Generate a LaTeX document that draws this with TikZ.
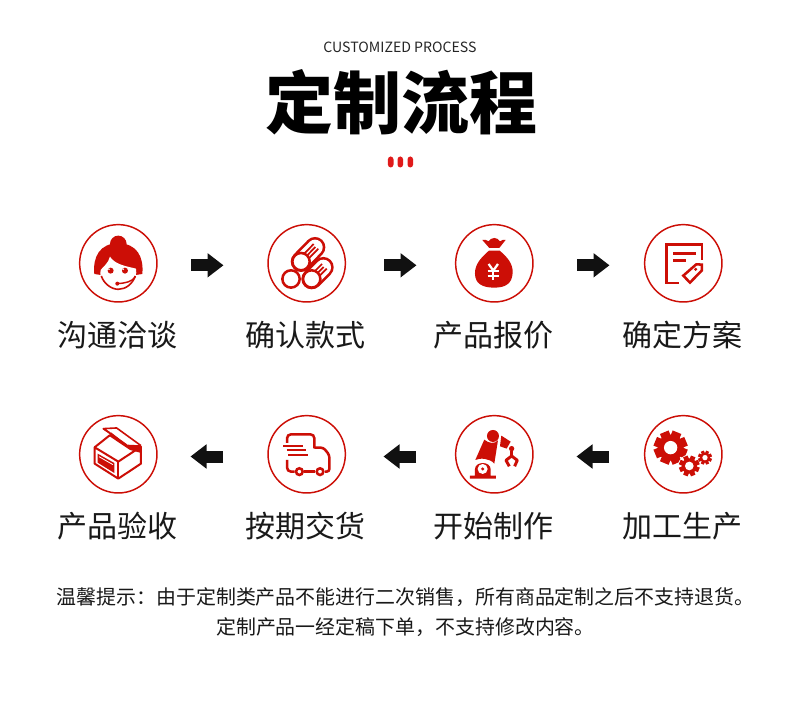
\documentclass[tikz,border=0pt]{standalone}
\usepackage{fontspec}
\usetikzlibrary{arrows.meta}
\setmainfont{Noto Sans CJK SC}
\definecolor{icred}{HTML}{CC0E06}
\definecolor{dotred}{HTML}{E01A1A}
\definecolor{arrblack}{HTML}{111111}
\tikzset{
  ring/.style={circle,draw=icred,line width=1.1pt,minimum size=58pt,inner sep=0pt},
  steplabel/.style={inner sep=0pt,font=\fontsize{22.5pt}{27pt}\selectfont,text=black!90},
  blockarrow/.style={draw=arrblack,line width=9pt,-{Triangle[length=12pt,width=17.5pt]}},
  icon/.style n args={3}{shift={(#1.center)},x=.25pt,y=-.25pt,shift={(-#2,-#3)}},
  rl/.style={draw=icred,line width=#1,line cap=butt,line join=miter},
  rl/.default=1.5pt,
  note/.style={inner sep=0pt,font=\fontsize{14.95pt}{18pt}\selectfont,text=black!90}
}
\newcommand{\gearat}[6]{% x y outer body hole toothwidth
  \begin{scope}[shift={(#1,#2)}]
    \foreach \a in {0,45,...,315}{\draw[icred,line width=#6,rotate=\a+22.5] (0,0)--(#3,0);}
    \fill[icred] (0,0) circle[radius=#4];
    \fill[white] (0,0) circle[radius=#5];
  \end{scope}}
\begin{document}
\begin{tikzpicture}[x=.75pt,y=-.75pt]
\useasboundingbox[fill=white] (0,0) rectangle (800,706);
% header
\node[inner sep=0pt,font=\fontsize{10.6pt}{13pt}\selectfont,text=black!85] (sub) at (400,47) {CUSTOMIZED PROCESS};
\node[inner sep=0pt,font=\fontsize{51pt}{60pt}\selectfont\bfseries] (title) at (401,102.5) {定制流程};
\foreach \n/\x in {d1/390.7,d2/400.3,d3/410.3}{
  \fill[dotred,rounded corners=2.2pt] (\x-2.8,156.5) rectangle (\x+2.8,167.5);}
% circles
\node[ring] (c1) at (118.3,263.3) {};
\node[ring] (c2) at (306.7,263.3) {};
\node[ring] (c3) at (494.3,263.3) {};
\node[ring] (c4) at (683.3,263.3) {};
\node[ring] (c5) at (118.3,454.3) {};
\node[ring] (c6) at (306.7,454.3) {};
\node[ring] (c7) at (494.3,454.3) {};
\node[ring] (c8) at (683.3,454.3) {};
% labels
\node[steplabel] (l1) at (117.5,335) {沟通洽谈};
\node[steplabel] (l2) at (305.5,335) {确认款式};
\node[steplabel] (l3) at (493.5,335) {产品报价};
\node[steplabel] (l4) at (682.5,335) {确定方案};
\node[steplabel] (l5) at (117.5,526) {产品验收};
\node[steplabel] (l6) at (305.5,526) {按期交货};
\node[steplabel] (l7) at (493.5,526) {开始制作};
\node[steplabel] (l8) at (682.5,526) {加工生产};
% arrows
\coordinate (a1s) at (191,265.3); \coordinate (a1e) at (223.5,265.3);
\coordinate (a2s) at (384,265.3); \coordinate (a2e) at (416.5,265.3);
\coordinate (a3s) at (577,265.3); \coordinate (a3e) at (609.5,265.3);
\coordinate (a4s) at (223,456.5); \coordinate (a4e) at (190.5,456.5);
\coordinate (a5s) at (416,456.5); \coordinate (a5e) at (383.5,456.5);
\coordinate (a6s) at (609,456.5); \coordinate (a6e) at (576.5,456.5);
\draw[blockarrow] (a1s)--(a1e);
\draw[blockarrow] (a2s)--(a2e);
\draw[blockarrow] (a3s)--(a3e);
\draw[blockarrow] (a4s)--(a4e);
\draw[blockarrow] (a5s)--(a5e);
\draw[blockarrow] (a6s)--(a6e);
% icon 1: woman
\begin{scope}[icon={c1}{175}{160}]
  \fill[icred] (175,102) circle[radius=25];
  \fill[icred] (103,192) .. controls (98,140) and (120,100) .. (175,100)
     .. controls (230,100) and (252,140) .. (247,192) -- (228,195) -- (122,195) -- cycle;
  \fill[white] (122,180) .. controls (130,170) and (145,160) .. (150,140)
     .. controls (165,165) and (205,170) .. (228,176)
     .. controls (235,210) and (205,238) .. (175,238)
     .. controls (145,238) and (115,210) .. (122,180) -- cycle;
  \draw[rl=1.2pt] (124,198) .. controls (132,222) and (155,238) .. (175,238) .. controls (197,238) and (218,222) .. (226,198);
  \fill[icred] (152,182) circle[radius=9] (195,182) circle[radius=9];
  \fill[white] (147,178) circle[radius=2.6] (190,178) circle[radius=2.6];
  \draw[rl=1.1pt] (226,200) .. controls (218,215) and (195,220) .. (172,221);
  \fill[icred] (172,221) circle[radius=6];
\end{scope}
% icon 2: logs
\begin{scope}[icon={c2}{740}{160}]
  \foreach \ax/\ay/\bx/\by in {755/207/790/172, 723/155/765/112}{
    \draw[icred,line width=15.5pt,line cap=round] (\ax,\ay)--(\bx,\by);
    \draw[white,line width=11.5pt,line cap=round] (\ax,\ay)--(\bx,\by);
    \draw[rl=1.3pt] (\ax+2,\ay-16)--(\bx-4,\by-10);
    \draw[rl=1.3pt] (\ax+10,\ay-10)--(\bx+1,\by-1);
    \draw[rl=1.3pt] (\ax+16,\ay-2)--(\bx+10,\by+4);
  }
  \foreach \x/\y in {723/155,693/207,755/207}{
    \draw[icred,fill=white,line width=1.9pt] (\x,\y) circle[radius=26];}
\end{scope}
% icon 3: money bag
\begin{scope}[icon={c3}{163}{160}]
  \fill[icred] (127,90) .. controls (135,88) and (140,90) .. (146,94)
    .. controls (150,88) and (156,84) .. (163,84)
    .. controls (170,84) and (176,88) .. (180,94)
    .. controls (186,90) and (191,88) .. (197,90)
    -- (178,114) -- (148,114) -- cycle;
  \fill[icred] (147,122) -- (179,122)
    .. controls (200,140) and (220,160) .. (218,190)
    .. controls (216,222) and (195,233) .. (163,233)
    .. controls (128,233) and (105,222) .. (105,190)
    .. controls (105,160) and (127,140) .. (147,122) -- cycle;
  \draw[white,line width=1.7pt] (146,162) -- (160,182) -- (174,162);
  \draw[white,line width=1.7pt] (160,182) -- (160,209) (143,184) -- (177,184) (143,197) -- (177,197);
\end{scope}
% icon 4: document and tag
\begin{scope}[icon={c4}{730}{160}]
  \draw[rl=2.2pt] (716,219) -- (680,219) -- (680,104) -- (786,104) -- (786,150);
  \draw[rl=2pt] (700,130) -- (768,130);
  \draw[rl=2pt] (700,152) -- (737,152);
  \draw[rl=1.9pt,fill=white] (730,197) -- (769,163) -- (786,164) -- (786,181) -- (750,218) -- cycle;
  \fill[icred] (767,178) circle[radius=5];
\end{scope}
% icon 5: box
\begin{scope}[icon={c5}{175}{148}]
  \fill[icred] (146,92) -- (153,82) -- (200,119) -- (243,121) -- (240,143) -- (210,135) -- cycle;
  \draw[rl=1.2pt,line join=round] (150,84) -- (130,71) -- (170,69) -- (243,122);
  \draw[rl=1.2pt,line join=round] (130,71) -- (200,120);
  \draw[rl=1.5pt,line join=round] (104,127) -- (175,170) -- (243,125) -- (243,176) -- (175,221) -- (104,176) -- cycle;
  \draw[rl=1.5pt] (104,127) -- (148,92);
  \draw[rl=1.5pt] (175,170) -- (175,221);
  \fill[icred] (113,146) -- (163,174) -- (163,204) -- (113,173) -- cycle;
  \draw[white,line width=.6pt] (117,155) -- (159,179);
\end{scope}
% icon 6: truck
\begin{scope}[icon={c6}{740}{148}]
  \draw[rl=1.9pt,rounded corners=3pt] (681,114) -- (681,88) -- (763,88) -- (763,130);
  \draw[rl=1.9pt,rounded corners=2pt] (763,128) -- (790,128) -- (808,150) -- (808,200) -- (795,200);
  \draw[rl=1.9pt,rounded corners=3pt] (681,165) -- (681,200) -- (704,200);
  \draw[rl=1.9pt] (733,200) -- (765,200);
  \draw[icred,line width=1.9pt] (718,200) circle[radius=10] (780,200) circle[radius=10];
  \draw[rl=1.5pt] (669,122) -- (730,122);
  \draw[rl=1.5pt] (680,136) -- (738,136);
  \draw[rl=1.5pt] (685,150) -- (745,150);
\end{scope}
% icon 7: robot arm
\begin{scope}[icon={c7}{163}{148}]
  \fill[icred] (90,212) -- (105,212) -- (105,193) .. controls (105,168) and (152,168) .. (152,193) -- (152,212) -- (168,212) -- (168,221) -- (90,221) -- cycle;
  \fill[white] (128,192) circle[radius=15];
  \fill[icred] (128,192) circle[radius=5];
  \fill[icred] (106,165) -- (133,104) .. controls (145,115) and (165,118) .. (174,106) -- (163,176) .. controls (150,160) and (120,158) .. (106,165) -- cycle;
  \fill[icred] (159,93) circle[radius=18];
  \fill[icred] (184,92) -- (212,110) -- (200,131) -- (180,124) -- cycle;
  \fill[icred] (215,131) circle[radius=8];
  \draw[rl=2.2pt,line join=round] (215,138) -- (215,152);
  \draw[rl=2.2pt,line join=round] (208,184) -- (198,166) -- (215,153) -- (232,166) -- (224,184);
\end{scope}
% icon 8: gears
\begin{scope}[icon={c8}{730}{148}]
  \gearat{692}{128}{50}{39}{20}{7pt}
  \fill[white] (748,183) circle[radius=34];
  \gearat{748}{183}{31}{23}{13}{3.6pt}
  \gearat{795}{158}{21}{15}{8}{2.4pt}
\end{scope}
% footer
\node[note] (n1) at (405.5,597) {温馨提示：由于定制类产品不能进行二次销售，所有商品定制之后不支持退货。};
\node[note] (n2) at (405.5,627) {定制产品一经定稿下单，不支持修改内容。};
\end{tikzpicture}
\end{document}
